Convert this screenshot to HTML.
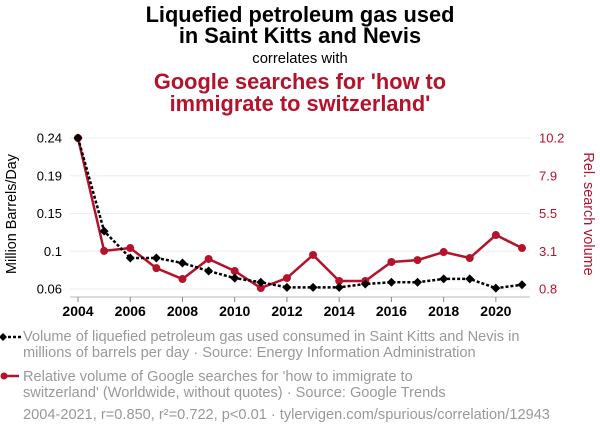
<!DOCTYPE html>
<html><head><meta charset="utf-8"><style>
body{margin:0;background:#fff;width:600px;height:436px;overflow:hidden;font-family:"Liberation Sans",Arial,sans-serif}
</style></head><body>
<svg id="chart" width="600" height="436" font-family="Liberation Sans, Arial, sans-serif">
<text x="300" y="22" text-anchor="middle" font-size="21.8" font-weight="bold" fill="#000">Liquefied petroleum gas used</text>
<text x="300" y="43" text-anchor="middle" font-size="21.8" font-weight="bold" fill="#000">in Saint Kitts and Nevis</text>
<text x="300" y="63" text-anchor="middle" font-size="14.8" fill="#000">correlates with</text>
<text x="300" y="89" text-anchor="middle" font-size="21.8" font-weight="bold" fill="#b5122b">Google searches for 'how to</text>
<text x="300" y="111" text-anchor="middle" font-size="21.8" font-weight="bold" fill="#b5122b">immigrate to switzerland'</text>
<g id="grid"></g><g id="axes"></g><g id="marks"></g>
<text transform="translate(16,214) rotate(-90)" text-anchor="middle" font-size="14.4" fill="#000">Million Barrels/Day</text>
<text transform="translate(584,214) rotate(90)" text-anchor="middle" font-size="14.4" fill="#b5122b">Rel. search volume</text>
<g>
<line x1="3" y1="337" x2="21" y2="337" stroke="#000" stroke-width="2.5" stroke-dasharray="3,2"/>
<path d="M3 333 L7 337 L3 341 L-1 337Z" fill="#000"/>
<text x="23" y="341" font-size="14.6" fill="#999">Volume of liquefied petroleum gas used consumed in Saint Kitts and Nevis in</text>
<text x="23" y="357" font-size="14.6" fill="#999">millions of barrels per day · Source: Energy Information Administration</text>
</g>
<g>
<line x1="3" y1="376" x2="19" y2="376" stroke="#b5122b" stroke-width="2.5"/>
<circle cx="4" cy="376" r="3.5" fill="#b5122b"/>
<text x="23" y="381" font-size="14.6" fill="#999">Relative volume of Google searches for 'how to immigrate to</text>
<text x="23" y="397" font-size="14.6" fill="#999">switzerland' (Worldwide, without quotes) · Source: Google Trends</text>
</g>
<text x="23" y="419" font-size="14.6" fill="#999">2004-2021, r=0.850, r²=0.722, p&lt;0.01 · tylervigen.com/spurious/correlation/12943</text>
</svg>
<script>
const years=[2004,2005,2006,2007,2008,2009,2010,2011,2012,2013,2014,2015,2016,2017,2018,2019,2020,2021];
const lpgValues=[0.24,0.129,0.097,0.097,0.091,0.0815,0.073,0.068,0.062,0.062,0.062,0.066,0.068,0.068,0.072,0.072,0.061,0.065];
const searchValues=[10.2,3.17,3.35,2.1,1.42,2.67,1.92,0.86,1.48,2.92,1.3,1.3,2.48,2.6,3.1,2.73,4.16,3.35];
const leftTicks=["0.24","0.19","0.15","0.1","0.06"];
const rightTicks=["10.2","7.9","5.5","3.1","0.8"];
const xTickYears=[2004,2006,2008,2010,2012,2014,2016,2018,2020];
const NS="http://www.w3.org/2000/svg";
const X0=78,X1=522,YT=138,YB=289;
const xS=y=>X0+(y-2004)*(X1-X0)/(2021-2004);
const yL=v=>YB-(v-0.06)/(0.24-0.06)*(YB-YT);
const yR=v=>YB-(v-0.8)/(10.2-0.8)*(YB-YT);
function mk(tag,attrs,parent){const e=document.createElementNS(NS,tag);for(const k in attrs)e.setAttribute(k,attrs[k]);parent.appendChild(e);return e;}
const grid=document.getElementById('grid'),axes=document.getElementById('axes'),marks=document.getElementById('marks');
leftTicks.forEach((t,i)=>{
 const y=YT+i*(YB-YT)/(leftTicks.length-1);
 const g=mk('line',{x1:X0-8,x2:X1+8,y1:y,y2:y,stroke:'#eee','stroke-width':1},grid);
 
 
 const l=mk('text',{x:62,y:y+4.5,'text-anchor':'end','font-size':13,fill:'#000'},axes);l.textContent=t;
 
 
 const r=mk('text',{x:539,y:y+4.5,'text-anchor':'start','font-size':13,fill:'#b5122b'},axes);r.textContent=rightTicks[i];
 
 
});
const ax=mk('line',{x1:X0-8,x2:X1+8,y1:297,y2:297,stroke:'#bbb','stroke-width':1},axes);


xTickYears.forEach(yr=>{
 const x=xS(yr);
 const t=mk('line',{x1:x,x2:x,y1:297,y2:302,stroke:'#888','stroke-width':1},axes);
 
 
 const l=mk('text',{x:x,y:316,'text-anchor':'middle','font-size':14,'font-weight':'bold',fill:'#000'},axes);l.textContent=yr;
 
 
});
const rp=mk('polyline',{points:years.map((y,i)=>xS(y)+','+yR(searchValues[i])).join(' '),fill:'none',stroke:'#b5122b','stroke-width':2.5},marks);


years.forEach((y,i)=>{const c=mk('circle',{cx:xS(y),cy:yR(searchValues[i]),r:4,fill:'#b5122b'},marks);
 
 });
const bp=mk('polyline',{points:years.map((y,i)=>xS(y)+','+yL(lpgValues[i])).join(' '),fill:'none',stroke:'#000','stroke-width':2.5,'stroke-dasharray':'3,2'},marks);


years.forEach((y,i)=>{const x=xS(y),v=yL(lpgValues[i]);
 const d=mk('path',{d:`M${x} ${v-4.5} L${x+4.5} ${v} L${x} ${v+4.5} L${x-4.5} ${v}Z`,fill:'#000'},marks);
 
 });
</script>
</body></html>
